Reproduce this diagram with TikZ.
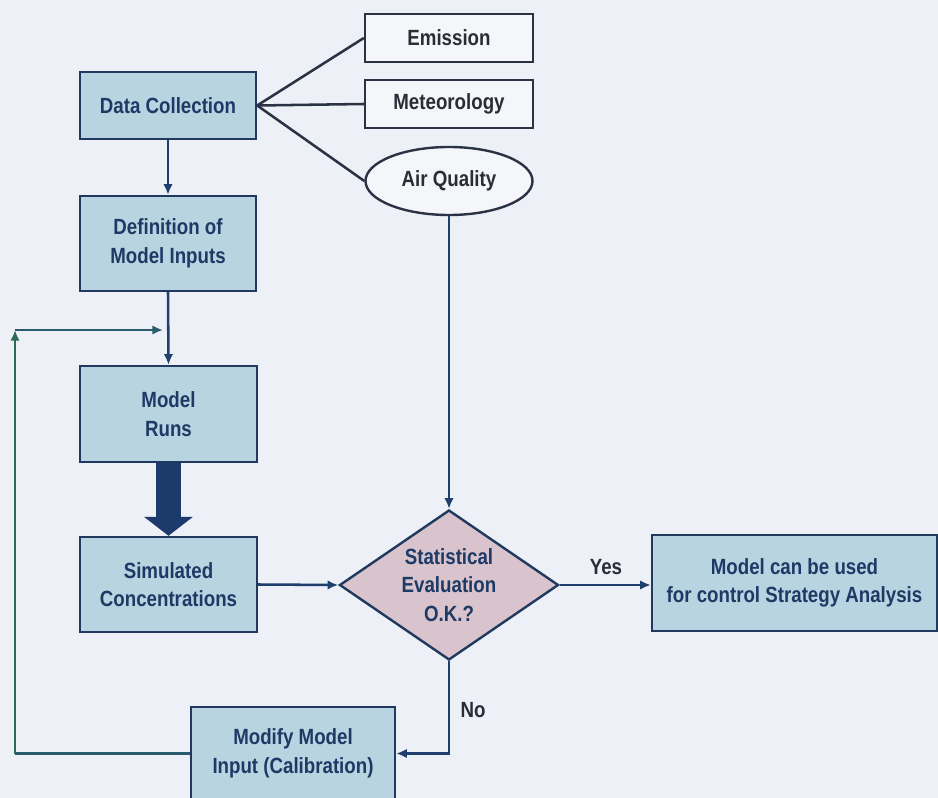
\documentclass[tikz,border=0pt]{standalone}
\usepackage{fontspec}
\setmainfont[FakeStretch=0.85]{Liberation Sans}
\usetikzlibrary{shapes.geometric,arrows.meta}

\definecolor{bgc}{HTML}{EDF0F6}
\definecolor{boxfill}{HTML}{B8D4E0}
\definecolor{diafill}{HTML}{D9C3CC}
\definecolor{edge}{HTML}{1F3A5E}
\definecolor{navytext}{HTML}{1D3A66}
\definecolor{darktext}{HTML}{2A2C36}
\definecolor{srcfill}{HTML}{F5F6FA}
\definecolor{srcedge}{HTML}{2A3244}
\definecolor{flow}{HTML}{1F3F6E}
\definecolor{loopgreen}{HTML}{2E6B57}
\definecolor{loopmix}{HTML}{285C6C}
\definecolor{bigarrow}{HTML}{1C3B6C}

\tikzset{
  txt/.style={font=\fontsize{16.5}{21.5}\selectfont\bfseries, align=center},
  procbox/.style={txt, draw=edge, line width=1.8pt, fill=boxfill, text=navytext,
    inner sep=0pt},
  srcbox/.style={txt, draw=srcedge, line width=1.8pt, fill=srcfill, text=darktext,
    inner sep=0pt},
  decision/.style={txt, diamond, draw=edge, line width=1.8pt, fill=diafill,
    text=navytext, inner sep=0pt, aspect=1.46},
  link/.style={draw=srcedge, line width=1.9pt},
  flowarrow/.style={draw=flow, line width=1.9pt, -{Latex[length=8pt,width=7pt]}},
  lbl/.style={txt, text=darktext},
}

\begin{document}
\begin{tikzpicture}[x=0.75pt, y=-0.75pt]
  % page area and background
  \fill[bgc] (0,0) rectangle (938,798);
  \clip (0,0) rectangle (938,798);

  % main process chain
  \node[procbox, minimum width=132pt, minimum height=50.25pt] (dc) at (168,105.5) {Data Collection};
  \node[procbox, minimum width=132pt, minimum height=71.25pt] (def) at (168,243.5) {Definition of\\Model Inputs};
  \node[procbox, minimum width=132.75pt, minimum height=72pt] (runs) at (168.5,414) {Model\\Runs};
  \node[procbox, minimum width=132.75pt, minimum height=71.25pt] (sim) at (168.5,584.5) {Simulated\\Concentrations};

  % data sources
  \node[srcbox, minimum width=126pt, minimum height=36pt] (emi) at (449,38) {Emission};
  \node[srcbox, minimum width=126pt, minimum height=36pt] (met) at (449,104) {Meteorology};
  \node[srcbox, ellipse, minimum width=125.25pt, minimum height=51pt] (aq) at (449,181) {Air Quality};

  % evaluation and outcomes
  \node[decision, minimum width=164.25pt, minimum height=112.5pt] (dia) at (449,585) {Statistical\\Evaluation\\O.K.?};
  \node[procbox, minimum width=213.75pt, minimum height=72pt] (res) at (794.5,583) {Model can be used\\for control Strategy Analysis};
  \node[procbox, minimum width=153pt, minimum height=69.75pt] (mod) at (293,753.5) {Modify Model\\Input (Calibration)};

  % links from data collection to its sources
  \draw[link] (dc.east) -- (emi.west);
  \draw[link] (dc.east) -- (met.west);
  \draw[link] (dc.east) -- (aq.west);

  % process flow
  \draw[flowarrow] (dc.south) -- (def.north);
  \draw[flowarrow] (def.south) -- (runs.north);
  \draw[line width=18.75pt, draw=bigarrow, -{Triangle[length=14.25pt,width=36pt]}] (runs.south) -- (sim.north);
  \draw[flowarrow] (sim.east) -- (dia.west);
  \draw[flowarrow] (aq.south) -- (dia.north);
  \draw[flowarrow] (dia.east) -- (dia.east -| res.west);
  \draw[flowarrow] (dia.south) |- (mod.east);

  % decision labels
  \node[lbl] (yes) at (606,567) {Yes};
  \node[lbl] (no) at (473,710) {No};

  % calibration feedback loop
  \coordinate (corner) at (15,330);
  \coordinate (join) at (163,330);
  \draw[draw=loopmix, line width=1.9pt] (mod.west) -- (mod.west -| corner);
  \draw[draw=loopgreen, line width=1.9pt, -{Latex[length=8pt,width=7pt]}] (mod.west -| corner) -- (corner);
  \draw[draw=loopmix, line width=1.9pt, -{Latex[length=8pt,width=7pt]}] (corner) -- (join);
\end{tikzpicture}
\end{document}
